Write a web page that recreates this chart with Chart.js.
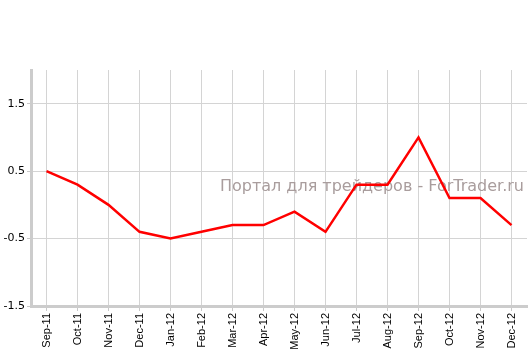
<!DOCTYPE html>
<html>
<head>
<meta charset="utf-8">
<script src="https://cdn.jsdelivr.net/npm/chart.js@4/dist/chart.umd.min.js"></script>
<style>
  html, body { margin: 0; padding: 0; background: #fff; }
  #wrap { width: 530px; height: 349px; }
</style>
</head>
<body>
<div id="wrap"><canvas id="chart"></canvas></div>
<script>
// Месяцы и значения
const months = ["Sep-11", "Oct-11", "Nov-11", "Dec-11", "Jan-12", "Feb-12", "Mar-12", "Apr-12",
                "May-12", "Jun-12", "Jul-12", "Aug-12", "Sep-12", "Oct-12", "Nov-12", "Dec-12"];
const values = [0.5, 0.3, 0.0, -0.4, -0.5, -0.4, -0.3, -0.3, -0.1, -0.4, 0.3, 0.3, 1.0, 0.1, 0.1, -0.3];
const yTicks = [-1.5, -0.5, 0.5, 1.5];

const watermarkText = "Портал для трейдеров - ForTrader.ru";

// Водяной знак под линией
const watermark = {
    id: "watermark",
    beforeDatasetsDraw(chart) {
        const c = chart.ctx;
        c.save();
        c.font = "16px 'DejaVu Sans'";
        c.fillStyle = "#a99d9d";
        c.textAlign = "right";
        c.textBaseline = "middle";
        c.fillText(watermarkText, chart.chartArea.right - 3, chart.scales.y.getPixelForValue(0.26));
        c.restore();
    }
};

new Chart(document.getElementById("chart"), {
    type: "line",
    data: {
        labels: months,
        datasets: [{
            data: values,
            borderColor: "#ff0000",
            borderWidth: 2.5,
            pointRadius: 0,
            tension: 0,
            fill: false
        }]
    },
    options: {
        responsive: true,
        maintainAspectRatio: false,
        animation: false,
        layout: { padding: { top: 70, right: 3, left: 0, bottom: 0 } },
        plugins: {
            legend: { display: false },
            tooltip: { enabled: false }
        },
        scales: {
            x: {
                offset: true,
                grid: { color: "#d4d4d4", lineWidth: 1, offset: false, tickLength: 5, tickColor: "#c8c8c8" },
                border: { color: "#cccccc", width: 3 },
                ticks: {
                    color: "#000",
                    font: { family: "'Liberation Sans'", size: 11 },
                    maxRotation: 90,
                    minRotation: 90,
                    autoSkip: false,
                    padding: 2
                },
                afterFit(scale) { scale.height = 43; }
            },
            y: {
                min: -1.5,
                max: 2,
                afterBuildTicks(scale) {
                    scale.ticks = yTicks.map(v => ({ value: v }));
                },
                grid: { color: "#d4d4d4", lineWidth: 1, tickLength: 4, tickColor: "#c8c8c8" },
                border: { color: "#cccccc", width: 3 },
                ticks: {
                    color: "#000",
                    font: { family: "'DejaVu Sans'", size: 11 },
                    padding: 2
                },
                afterFit(scale) { scale.width = 31; }
            }
        }
    },
    plugins: [watermark]
});
</script>
</body>
</html>
